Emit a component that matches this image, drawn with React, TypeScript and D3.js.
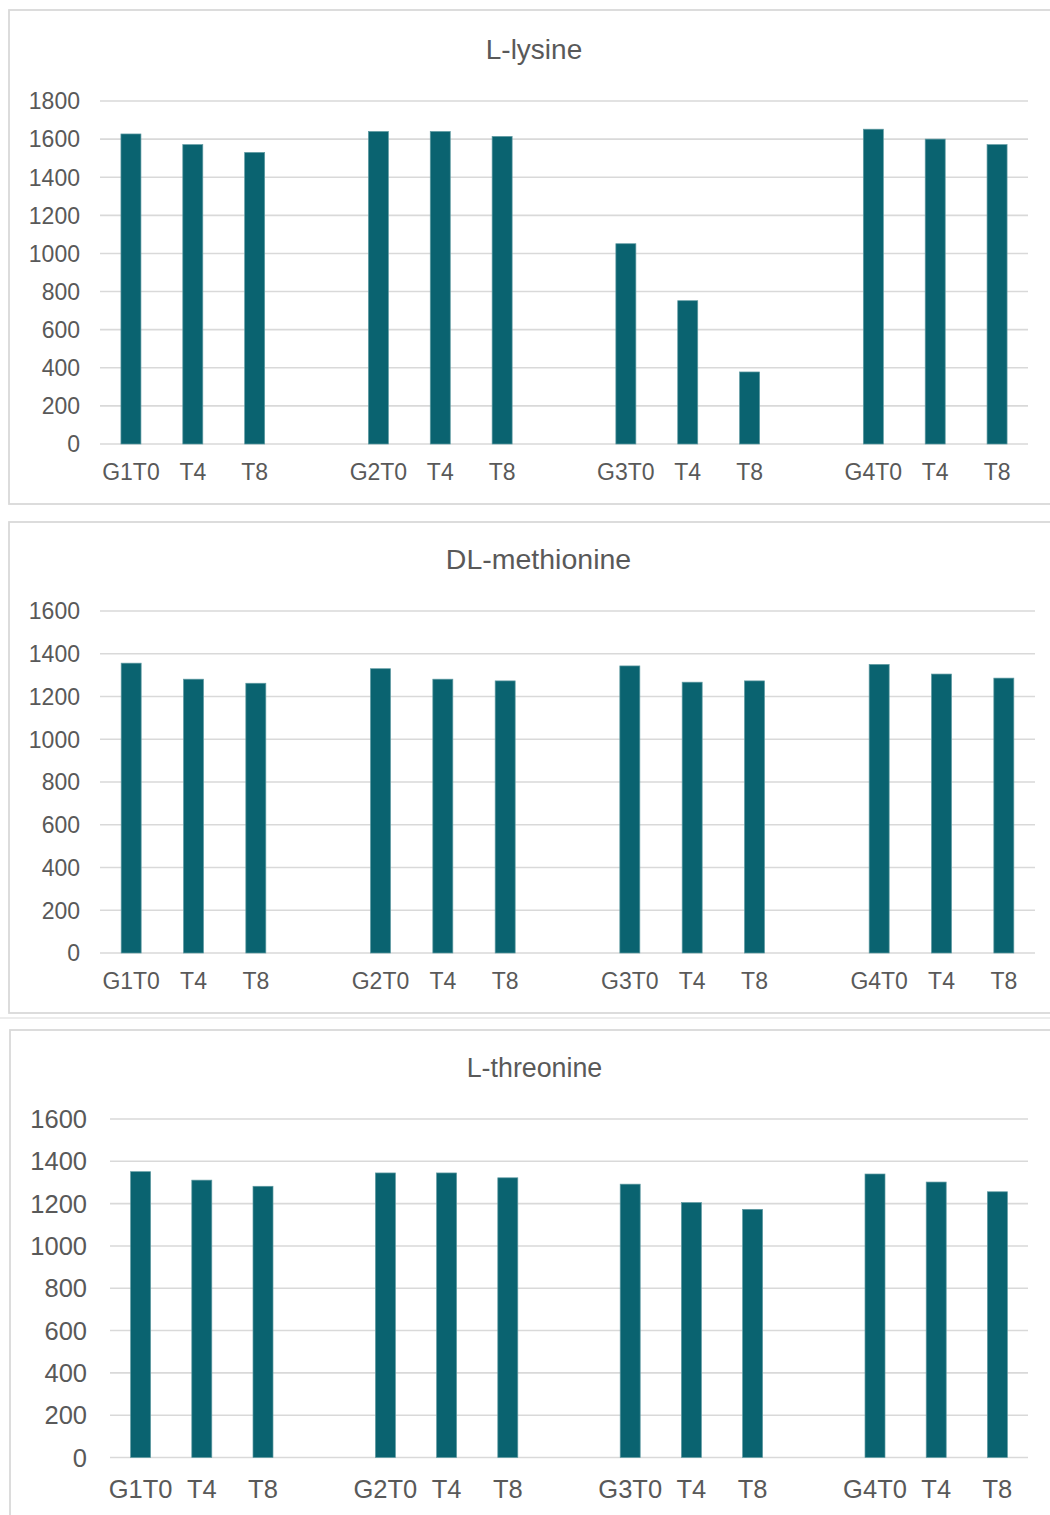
import React from "react";
import * as d3 from "d3";

const categories = ["G1T0", "T4", "T8", "", "G2T0", "T4", "T8", "", "G3T0", "T4", "T8", "", "G4T0", "T4", "T8"];
const lysine = [1627, 1571, 1530, null, 1640, 1640, 1614, null, 1051, 752, 378, null, 1652, 1600, 1571];
const methionine = [1356, 1281, 1262, null, 1330, 1281, 1273, null, 1343, 1267, 1273, null, 1350, 1305, 1286];
const threonine = [1351, 1311, 1282, null, 1345, 1345, 1322, null, 1292, 1205, 1173, null, 1340, 1302, 1256];
const lysineTicks = [0, 200, 400, 600, 800, 1000, 1200, 1400, 1600, 1800];
const aaTicks = [0, 200, 400, 600, 800, 1000, 1200, 1400, 1600];

const panels = [
  { title: "L-lysine", values: lysine, ticks: lysineTicks, max: 1800,
    box: [9, 10, 1060, 504], x: [100, 1028], y: [444, 101], titleX: 534, titleY: 59, fs: 23, tfs: 28, catY: 480, tickX: 80 },
  { title: "DL-methionine", values: methionine, ticks: aaTicks, max: 1600,
    box: [9, 522, 1060, 1013], x: [100, 1035], y: [953, 611], titleX: 538.5, titleY: 569, fs: 23, tfs: 28.5, catY: 989, tickX: 80 },
  { title: "L-threonine", values: threonine, ticks: aaTicks, max: 1600,
    box: [10, 1030, 1060, 1540], x: [110, 1028], y: [1457.5, 1119], titleX: 534.5, titleY: 1077, fs: 25.5, tfs: 26.8, catY: 1498, tickX: 87 },
];

const FONT = "'Liberation Sans', Arial, sans-serif";
const TEXT = "#595959";
const GRID = "#d9d9d9";
const BAR = "#0a6370";

function Panel({ p }: { p: any }) {
  const keys = categories.map((_, i) => String(i));
  const pad = 1 - 20 / ((p.x[1] - p.x[0]) / categories.length);
  const x = d3.scaleBand<string>().domain(keys).range(p.x).paddingInner(pad).paddingOuter(pad / 2);
  const y = d3.scaleLinear().domain([0, p.max]).range(p.y);
  const [bx0, by0, bx1, by1] = p.box;
  return (
    <g>
      <rect x={bx0} y={by0} width={bx1 - bx0} height={by1 - by0} fill="#fff" stroke={GRID} strokeWidth={1.8} />
      <text x={p.titleX} y={p.titleY} textAnchor="middle" fontSize={p.tfs} fill={TEXT} fontFamily={FONT}>{p.title}</text>
      {p.ticks.map((t: number) => (
        <g key={t}>
          <line x1={p.x[0]} x2={p.x[1]} y1={y(t)} y2={y(t)} stroke={GRID} strokeWidth={1.6} />
          <text x={p.tickX} y={y(t)} dy="0.36em" textAnchor="end" fontSize={p.fs} fill={TEXT} fontFamily={FONT}>{t}</text>
        </g>
      ))}
      {p.values.map((v: number | null, i: number) =>
        v == null ? null : (
          <rect key={i} x={x(String(i))} y={y(v)} width={x.bandwidth()} height={y(0) - y(v)} fill={BAR} stroke="#5f9aa2" strokeWidth={0.7} />
        )
      )}
      {categories.map((c, i) => (
        <text key={i} x={(x(String(i)) as number) + x.bandwidth() / 2} y={p.catY} textAnchor="middle" fontSize={p.fs} fill={TEXT} fontFamily={FONT}>{c}</text>
      ))}
    </g>
  );
}

export default function App() {
  return (
    <svg width={1050} height={1515} style={{ position: "absolute", left: 0, top: 0, background: "#fff" }}>
      <rect x={0} y={0} width={1050} height={1515} fill="#fff" />
      {panels.map((p) => <Panel key={p.title} p={p} />)}
      <line x1={0} x2={1050} y1={1018} y2={1018} stroke={GRID} strokeWidth={1.2} />
    </svg>
  );
}
